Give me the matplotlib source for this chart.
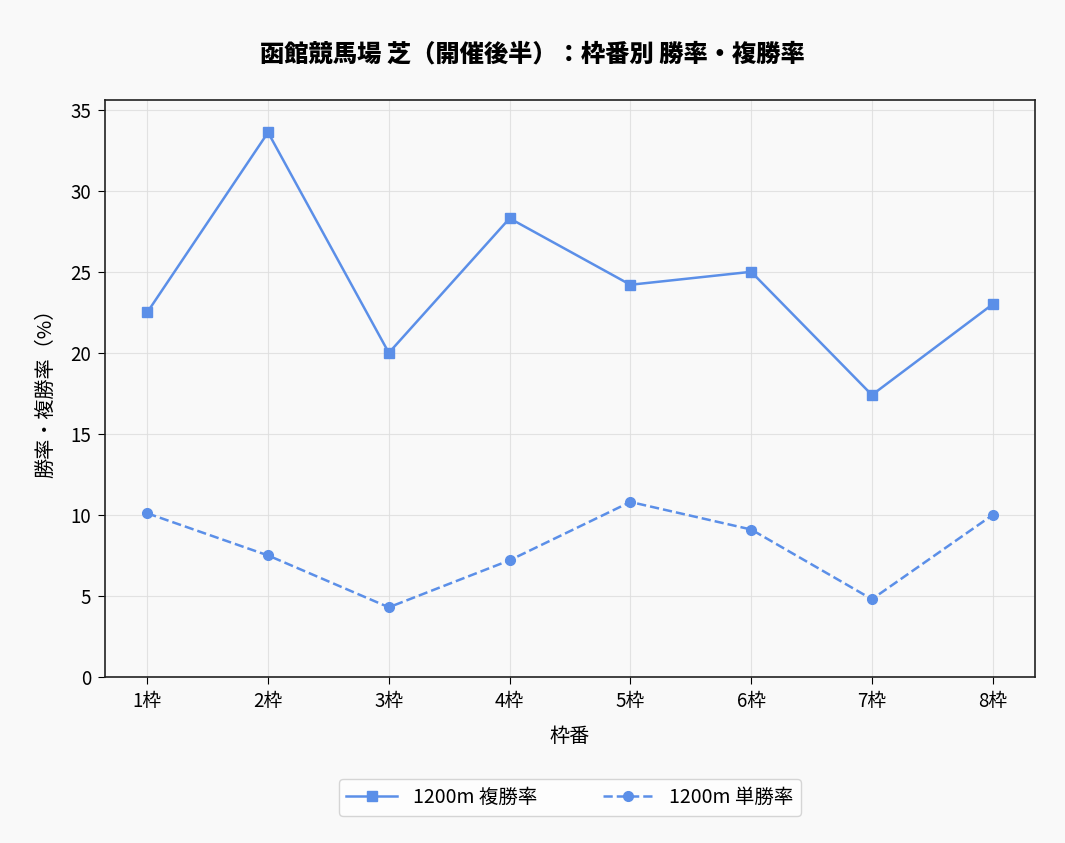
import matplotlib
matplotlib.use("Agg")
import matplotlib.pyplot as plt

plt.rcParams['font.family'] = ['Noto Sans CJK JP', 'DejaVu Sans']

categories = ["1枠", "2枠", "3枠", "4枠", "5枠", "6枠", "7枠", "8枠"]
place_rate = [22.5, 33.6, 20.0, 28.3, 24.2, 25.0, 17.4, 23.0]
win_rate = [10.1, 7.5, 4.3, 7.2, 10.8, 9.1, 4.8, 10.0]

color = "#5b8fe8"
bg = "#f9f9f9"

fig = plt.figure(figsize=(10.65, 8.43), dpi=100, facecolor=bg)
ax = fig.add_axes([105/1065, 1-677/843, (1035-105)/1065, (677-100)/843])
ax.set_facecolor(bg)

x = list(range(len(categories)))
ax.plot(x, place_rate, color=color, linestyle='-', marker='s', markersize=7, linewidth=1.8, label="1200m 複勝率")
ax.plot(x, win_rate, color=color, linestyle='--', marker='o', markersize=7, linewidth=1.8, label="1200m 単勝率")

ax.set_xticks(x)
ax.set_xticklabels(categories, fontsize=13.5)
ax.set_xlim(-0.35, 7.35)
ax.set_ylim(0, 35.6)
ax.set_yticks([0, 5, 10, 15, 20, 25, 30, 35])
ax.tick_params(axis='y', labelsize=13.5)
ax.tick_params(axis='both', length=5, pad=5)
ax.grid(True, color="#dddddd", linewidth=0.8, alpha=0.8)
ax.set_axisbelow(True)
for s in ax.spines.values():
    s.set_color("#222222")
    s.set_linewidth(1.2)

ax.set_xlabel("枠番", fontsize=14.5, labelpad=10)
ax.set_ylabel("勝率・複勝率（%）", fontsize=14.5, labelpad=10)
fig.suptitle("函館競馬場 芝（開催後半）：枠番別 勝率・複勝率", fontsize=17.5, fontweight='heavy', y=0.95)

leg = ax.legend(loc='upper center', bbox_to_anchor=(0.5, -0.16), ncol=2, fontsize=14,
                frameon=True, facecolor='white', edgecolor='#cccccc', handlelength=2.6, columnspacing=3.4)

fig.savefig("out.png", dpi=100, facecolor=bg)
